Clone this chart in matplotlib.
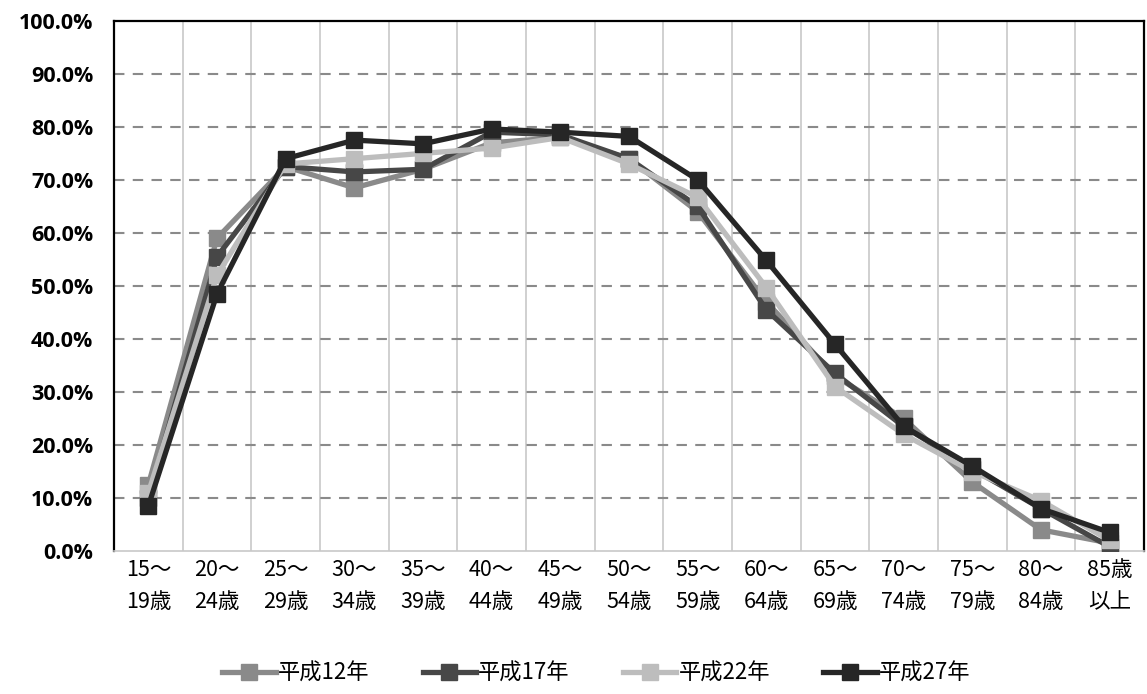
import matplotlib
matplotlib.use("Agg")
import matplotlib.pyplot as plt
from matplotlib.ticker import FuncFormatter, MultipleLocator

categories = ["15～\n19歳", "20～\n24歳", "25～\n29歳", "30～\n34歳", "35～\n39歳",
              "40～\n44歳", "45～\n49歳", "50～\n54歳", "55～\n59歳", "60～\n64歳",
              "65～\n69歳", "70～\n74歳", "75～\n79歳", "80～\n84歳", "85歳\n以上"]
h12 = [12.5, 59.0, 72.5, 68.5, 72.0, 77.0, 78.0, 74.0, 64.0, 47.0, 33.0, 25.0, 13.0, 4.0, 1.5]
h17 = [10.0, 55.5, 72.5, 71.5, 72.0, 79.0, 78.5, 74.0, 65.0, 45.5, 33.5, 23.5, 15.5, 8.0, 0.8]
h22 = [11.0, 52.0, 73.0, 74.0, 75.0, 76.0, 78.0, 73.0, 66.7, 49.7, 31.0, 22.0, 15.0, 9.5, 2.0]
h27 = [8.5, 48.5, 74.0, 77.5, 76.8, 79.6, 79.0, 78.2, 70.0, 54.8, 39.0, 23.5, 16.0, 8.0, 3.5]
series_names = ["平成12年", "平成17年", "平成22年", "平成27年"]
colors = ["#8a8a8a", "#474747", "#bdbdbd", "#262626"]

plt.rcParams['font.family'] = ['Noto Sans CJK JP', 'DejaVu Sans']

fig = plt.figure(figsize=(11.47, 6.94), dpi=100)
ax = fig.add_axes([0.0994, 0.206, 0.8980, 0.764])

x = list(range(len(categories)))
for vals, name, c in zip([h12, h17, h22, h27], series_names, colors):
    ax.plot(x, vals, color=c, lw=3.8, marker='s', ms=11, mfc=c, mec=c, label=name, zorder=3)

ax.set_xlim(-0.5, len(categories) - 0.5)
ax.set_ylim(0, 100)
ax.yaxis.set_major_locator(MultipleLocator(10))
ax.yaxis.set_major_formatter(FuncFormatter(lambda v, p: f"{v:.1f}%"))

# vertical grid at category boundaries
for b in range(1, len(categories)):
    ax.axvline(b - 0.5, color="#c8c8c8", lw=1.2, zorder=1)
for yv in range(10, 100, 10):
    ax.axhline(yv, color="#8a8a8a", lw=1.5, ls=(0, (5, 4)), zorder=1.5)

ax.set_xticks(x)
ax.set_xticklabels(categories, fontsize=15.5, linespacing=1.55)
for lab in ax.get_yticklabels():
    lab.set_fontfamily(['Open Sans', 'DejaVu Sans'])
    lab.set_fontweight('bold')
    lab.set_fontsize(15.5)
ax.tick_params(axis='both', length=0)
ax.tick_params(axis='x', pad=6)
ax.tick_params(axis='y', pad=15)

for s in ['top', 'left', 'right']:
    ax.spines[s].set_color('black')
    ax.spines[s].set_linewidth(1.6)
ax.spines['bottom'].set_color('#c8c8c8')
ax.spines['bottom'].set_linewidth(1.2)

leg = fig.legend(loc='lower center', bbox_to_anchor=(0.52, -0.015), ncol=4, frameon=False,
                 fontsize=16, handlelength=2.4, columnspacing=2.4, handletextpad=0.1)

fig.savefig("out.png", dpi=100)
